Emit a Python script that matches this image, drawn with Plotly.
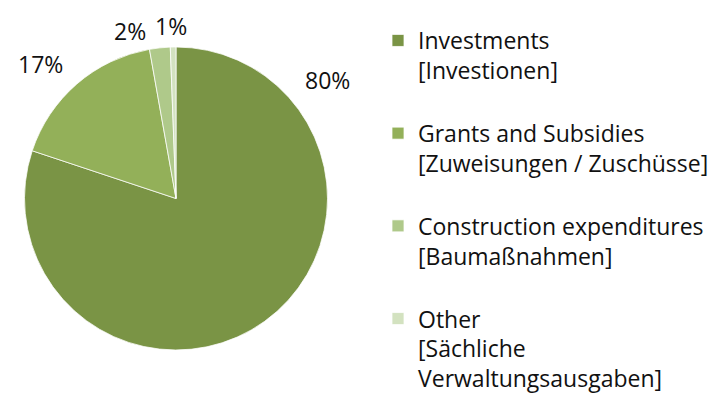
import plotly.graph_objects as go

labels = [
    "Investments<br>[Investionen]<br> ",
    "Grants and Subsidies<br>[Zuweisungen / Zuschüsse]<br> ",
    "Construction expenditures<br>[Baumaßnahmen]<br> ",
    "Other<br>[Sächliche<br>Verwaltungsausgaben]",
]
values = [80.1, 17.1, 2.2, 0.6]
colors = ["#7A9445", "#93B059", "#AFC98A", "#D3E2C0"]

# page body has an 8px margin; work in page pixels and convert
OFF = 8
W, H = 725 - OFF, 403 - OFF

# label anchor positions (page pixels)
label_pos = [(327, 80), (40, 64), (130, 31), (171, 26)]

FONT = "Open Sans, sans-serif"
FS = 23


def px_x(x):
    return (x - OFF) / W


def px_y(y):
    return 1 - (y - OFF) / H


cx, cy, r = 176, 198.5, 151.5

fig = go.Figure()
fig.add_trace(go.Pie(
    labels=labels,
    values=values,
    sort=False,
    direction="clockwise",
    rotation=0,
    textinfo="none",
    marker=dict(colors=colors, line=dict(color="white", width=0.75)),
    domain=dict(x=[px_x(cx - r), px_x(cx + r)],
                y=[px_y(cy + r), px_y(cy - r)]),
    hoverinfo="label+percent",
))

total = sum(values)
for v, (px, py) in zip(values, label_pos):
    fig.add_annotation(
        x=px_x(px), y=px_y(py), xref="paper", yref="paper",
        text=f"{round(v / total * 100)}%", showarrow=False,
        xanchor="center", yanchor="middle",
        font=dict(family=FONT, size=FS, color="#111111"),
    )

fig.update_layout(
    width=W, height=H,
    margin=dict(l=0, r=0, t=0, b=0),
    paper_bgcolor="white",
    plot_bgcolor="white",
    font=dict(family=FONT, size=FS, color="#111111"),
    showlegend=True,
    legend=dict(
        x=px_x(378), y=px_y(19), xanchor="left", yanchor="top",
        valign="top", traceorder="normal",
        font=dict(family=FONT, size=FS, color="#111111"),
        bgcolor="rgba(0,0,0,0)",
    ),
)

fig.write_html("out.html")
